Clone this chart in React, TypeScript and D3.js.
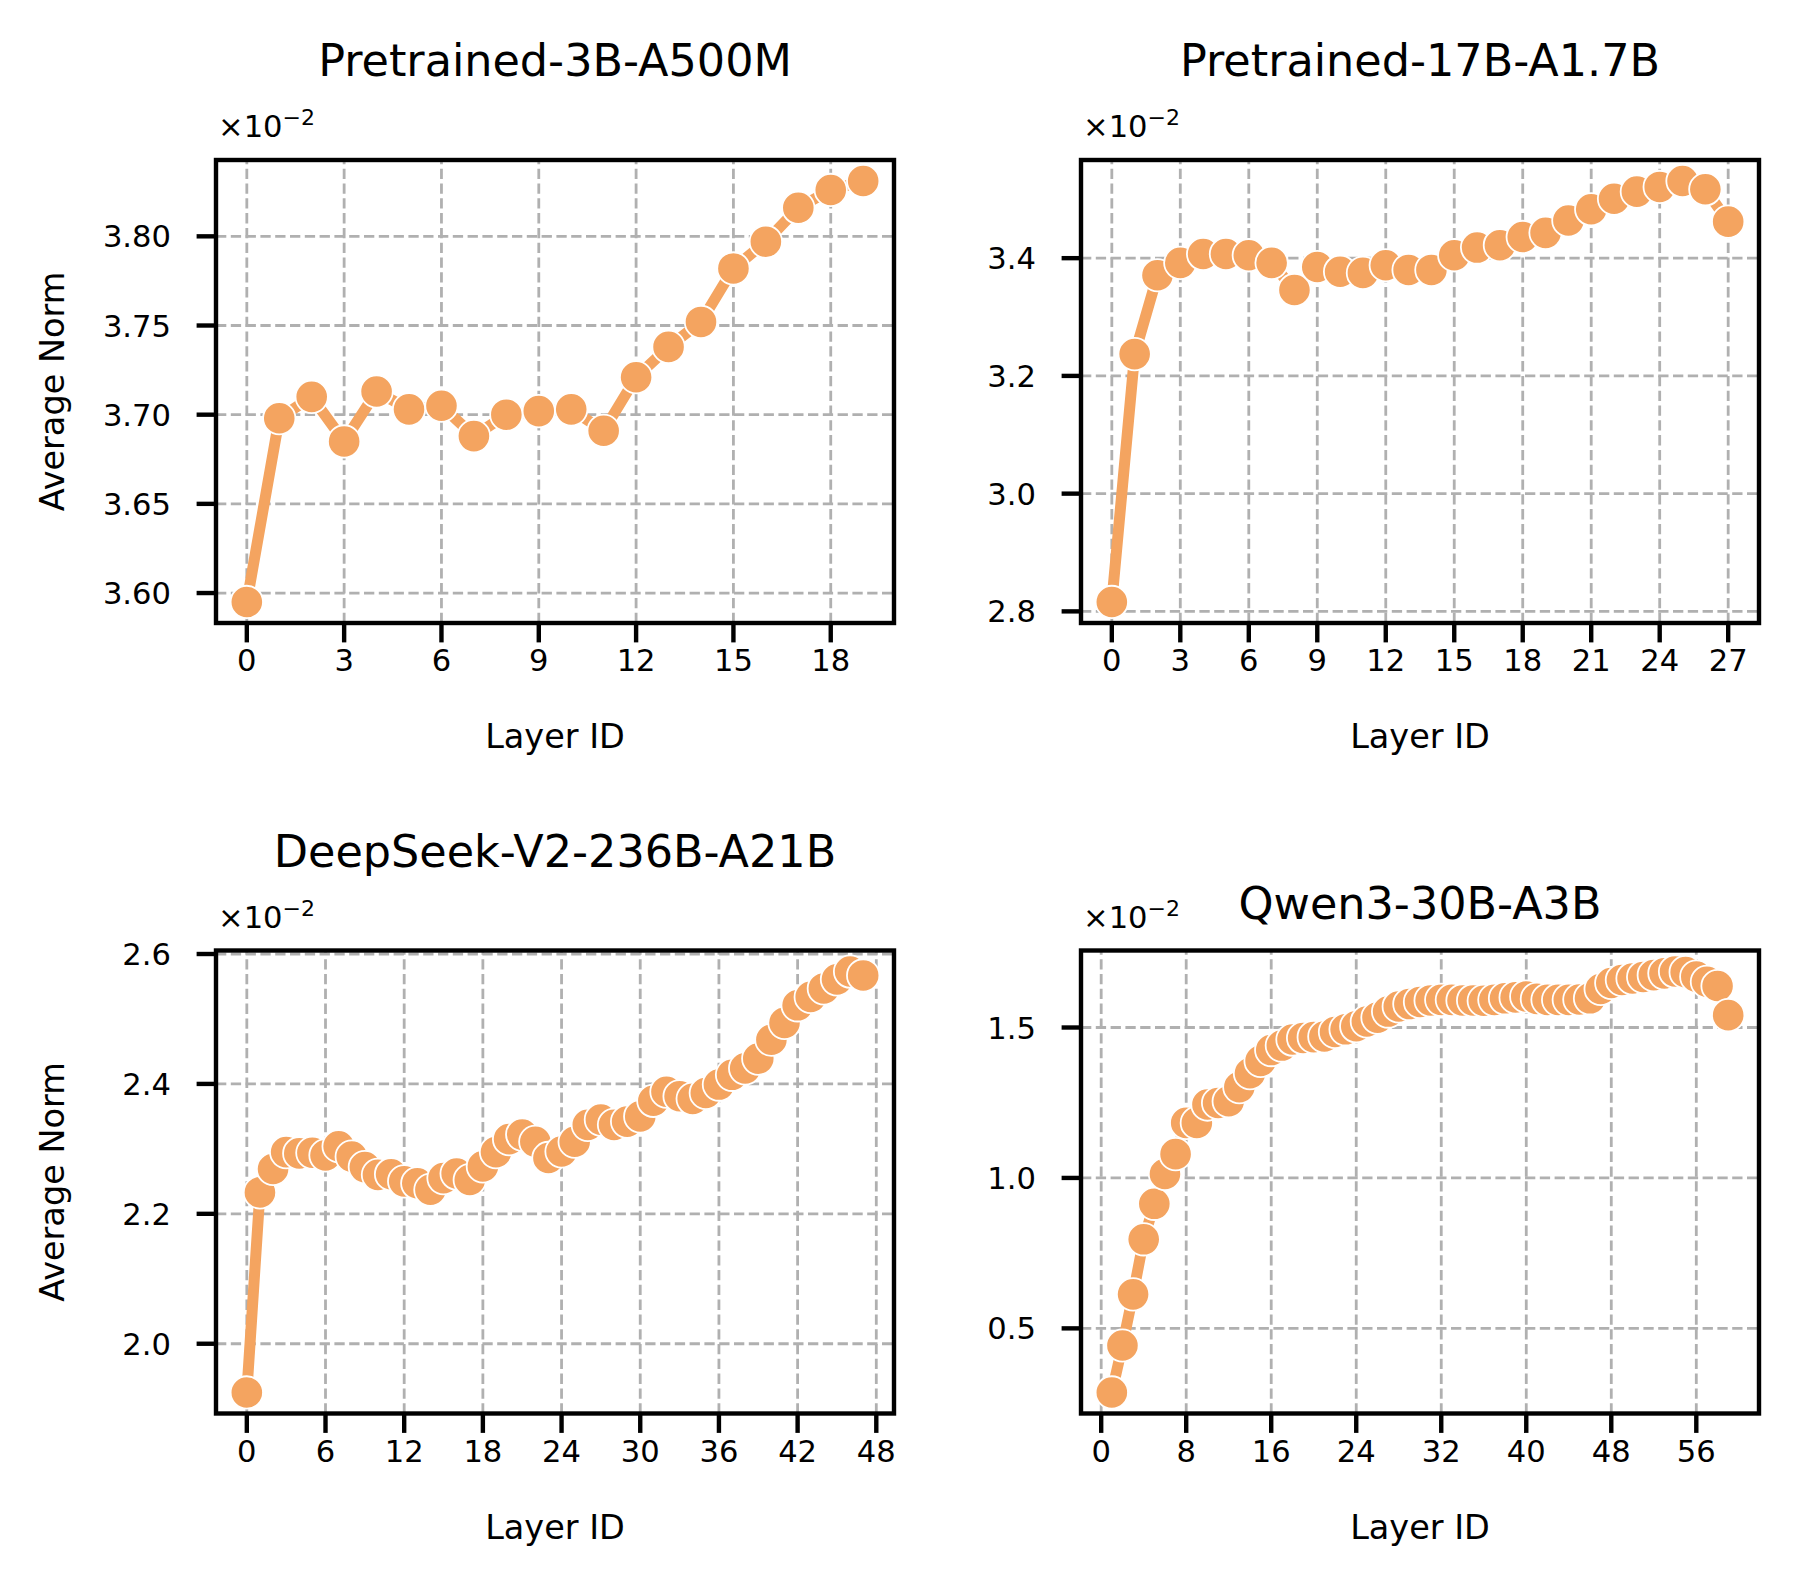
import React from "react";
import * as d3 from "d3";

// Average norm per layer, shown in units of 1e-2 (axis offset "×10^-2")
const titles = [
  "Pretrained-3B-A500M",
  "Pretrained-17B-A1.7B",
  "DeepSeek-V2-236B-A21B",
  "Qwen3-30B-A3B",
];

const norm3B = [
  3.595, 3.698, 3.71, 3.685, 3.713, 3.703, 3.705, 3.688, 3.7, 3.702,
  3.703, 3.691, 3.721, 3.738, 3.752, 3.782, 3.797, 3.816, 3.826, 3.831,
];

const norm17B = [
  2.816, 3.237, 3.371, 3.392, 3.407, 3.407, 3.405, 3.392, 3.346, 3.385,
  3.377, 3.375, 3.388, 3.38, 3.38, 3.405, 3.418, 3.422, 3.436, 3.443,
  3.464, 3.483, 3.501, 3.513, 3.521, 3.531, 3.517, 3.462,
];

const normDeepSeek = [
  1.925, 2.233, 2.269, 2.295, 2.293, 2.294, 2.29, 2.304, 2.288, 2.272,
  2.26, 2.261, 2.25, 2.247, 2.237, 2.255, 2.262, 2.252, 2.273, 2.295,
  2.315, 2.322, 2.311, 2.286, 2.296, 2.311, 2.337, 2.345, 2.337, 2.342,
  2.35, 2.374, 2.388, 2.381, 2.377, 2.386, 2.399, 2.414, 2.424, 2.439,
  2.468, 2.494, 2.521, 2.534, 2.547, 2.561, 2.573, 2.567,
];

const normQwen = [
  0.287, 0.443, 0.613, 0.796, 0.914, 1.013, 1.079, 1.183, 1.183, 1.244,
  1.249, 1.255, 1.302, 1.348, 1.389, 1.425, 1.44, 1.46, 1.465, 1.468,
  1.47, 1.485, 1.494, 1.504, 1.52, 1.533, 1.553, 1.57, 1.578, 1.585,
  1.59, 1.592, 1.592, 1.59, 1.59, 1.589, 1.592, 1.597, 1.6, 1.603,
  1.595, 1.592, 1.592, 1.592, 1.593, 1.597, 1.628, 1.648, 1.658, 1.663,
  1.668, 1.674, 1.68, 1.686, 1.684, 1.669, 1.652, 1.638, 1.541,
];

const firstLayers = [0, 0, 0, 1];

const xTicks3B = [0, 3, 6, 9, 12, 15, 18];
const xTicks17B = [0, 3, 6, 9, 12, 15, 18, 21, 24, 27];
const xTicksDeepSeek = [0, 6, 12, 18, 24, 30, 36, 42, 48];
const xTicksQwen = [0, 8, 16, 24, 32, 40, 48, 56];

const yTicks3B = [3.6, 3.65, 3.7, 3.75, 3.8];
const yTicks17B = [2.8, 3.0, 3.2, 3.4];
const yTicksDeepSeek = [2.0, 2.2, 2.4, 2.6];
const yTicksQwen = [0.5, 1.0, 1.5];

const FONT = "DejaVu Sans";
const COLOR = "#F4A460";
const W = 678;
const H = 463;

const padDomain = (lo: number, hi: number): [number, number] => {
  const m = (hi - lo) * 0.05;
  return [lo - m, hi + m];
};

type PanelProps = {
  left: number;
  top: number;
  title: string;
  titleDy: number;
  values: number[];
  start: number;
  xTicks: number[];
  yTicks: number[];
  yFmt: string;
  yLabel: boolean;
};

const Panel = ({ left, top, title, titleDy, values, start, xTicks, yTicks, yFmt, yLabel }: PanelProps) => {
  const x = d3
    .scaleLinear()
    .domain(padDomain(start, start + values.length - 1))
    .range([0, W]);
  const [lo, hi] = d3.extent(values) as [number, number];
  const y = d3.scaleLinear().domain(padDomain(lo, hi)).range([H, 0]);
  const fmt = d3.format(yFmt);

  const line = d3
    .line<number>()
    .x((d, i) => x(start + i))
    .y((d) => y(d));

  return (
    <g transform={`translate(${left},${top})`} fontFamily={FONT}>
      {/* grid */}
      {xTicks.map((t) => (
        <line key={"gx" + t} x1={x(t)} x2={x(t)} y1={H} y2={0}
          stroke="#b0b0b0" strokeWidth={2.8} strokeDasharray="10.3 4.5" />
      ))}
      {yTicks.map((t) => (
        <line key={"gy" + t} x1={0} x2={W} y1={y(t)} y2={y(t)}
          stroke="#b0b0b0" strokeWidth={2.8} strokeDasharray="10.3 4.5" />
      ))}

      {/* series */}
      <path d={line(values) || ""} fill="none" stroke={COLOR} strokeWidth={11}
        strokeLinejoin="round" strokeLinecap="butt" />
      {values.map((v, i) => (
        <circle key={i} cx={x(start + i)} cy={y(v)} r={16.2}
          fill={COLOR} stroke="#ffffff" strokeWidth={1.8} />
      ))}

      {/* spines */}
      <rect x={0} y={0} width={W} height={H} fill="none" stroke="#000" strokeWidth={4.4} />

      {/* x ticks */}
      {xTicks.map((t) => (
        <g key={"xt" + t}>
          <line x1={x(t)} x2={x(t)} y1={H} y2={H + 19.4} stroke="#000" strokeWidth={4.4} />
          <text x={x(t)} y={H + 48} fontSize={30.6} textAnchor="middle">{t}</text>
        </g>
      ))}

      {/* y ticks */}
      {yTicks.map((t) => (
        <g key={"yt" + t}>
          <line x1={-19.4} x2={0} y1={y(t)} y2={y(t)} stroke="#000" strokeWidth={4.4} />
          <text x={-45} y={y(t) + 11} fontSize={30.6} textAnchor="end">{fmt(t)}</text>
        </g>
      ))}

      {/* offset text */}
      <text x={2} y={-23} fontSize={30.6}>
        ×10<tspan fontSize={22} dy={-12}>−2</tspan>
      </text>

      <text x={W / 2} y={titleDy} fontSize={44.5} textAnchor="middle">{title}</text>
      <text x={W / 2} y={H + 125} fontSize={33.5} textAnchor="middle">Layer ID</text>
      {yLabel && (
        <text transform={`translate(${64 - left},${H / 2}) rotate(-90)`}
          fontSize={33.5} textAnchor="middle">Average Norm</text>
      )}
    </g>
  );
};

const App = () => {
  const cols = [216, 1081];
  const rows = [160, 950.5];
  return (
    <div style={{ position: "absolute", left: 0, top: 0 }}>
      <svg width={1800} height={1586} style={{ display: "block", background: "#fff" }}>
        <Panel left={cols[0]} top={rows[0]} title={titles[0]} titleDy={-84}
          values={norm3B} start={firstLayers[0]} xTicks={xTicks3B} yTicks={yTicks3B}
          yFmt=".2f" yLabel={true} />
        <Panel left={cols[1]} top={rows[0]} title={titles[1]} titleDy={-84}
          values={norm17B} start={firstLayers[1]} xTicks={xTicks17B} yTicks={yTicks17B}
          yFmt=".1f" yLabel={false} />
        <Panel left={cols[0]} top={rows[1]} title={titles[2]} titleDy={-84}
          values={normDeepSeek} start={firstLayers[2]} xTicks={xTicksDeepSeek} yTicks={yTicksDeepSeek}
          yFmt=".1f" yLabel={true} />
        <Panel left={cols[1]} top={rows[1]} title={titles[3]} titleDy={-32}
          values={normQwen} start={firstLayers[3]} xTicks={xTicksQwen} yTicks={yTicksQwen}
          yFmt=".1f" yLabel={false} />
      </svg>
    </div>
  );
};

export default App;
